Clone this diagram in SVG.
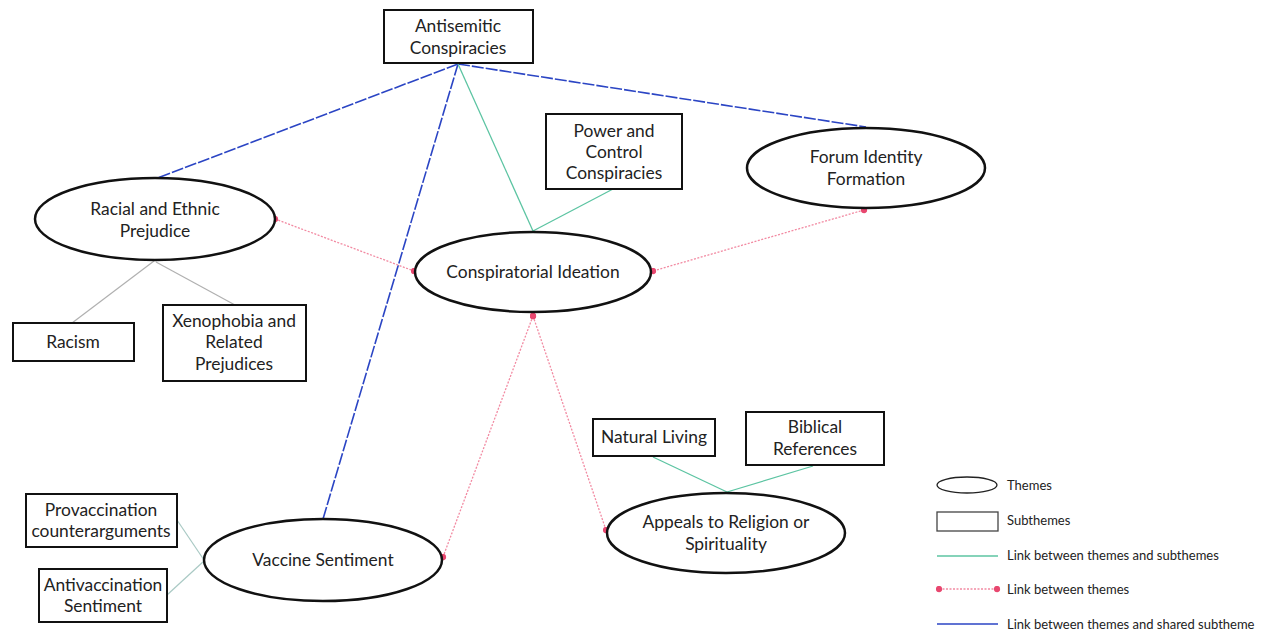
<svg xmlns="http://www.w3.org/2000/svg" width="1266" height="633" viewBox="0 0 1266 633">
<defs>
<marker id="dot" viewBox="0 0 10 10" refX="5" refY="5" markerWidth="7" markerHeight="7" markerUnits="userSpaceOnUse">
<circle cx="5" cy="5" r="4.5" fill="#e8476f"/>
</marker>
<style>
.theme{fill:#fff;stroke:#111;stroke-width:2.5}
.sub{fill:#fff;stroke:#111;stroke-width:2}
.t{font-family:Lato,"Open Sans",sans-serif;font-size:17.4px;fill:#222;text-anchor:middle}
.lg{font-family:Lato,"Open Sans",sans-serif;font-size:13px;fill:#222}
.green{stroke:#5cc4a2;stroke-width:1.3;fill:none}
.grey{stroke:#b0b0b0;stroke-width:1.2;fill:none}
.teal{stroke:#a9c9c4;stroke-width:1.2;fill:none}
.blue{stroke:#2b45c4;stroke-width:1.6;stroke-dasharray:12 2;fill:none}
.pink{stroke:#f28aa2;stroke-width:1.3;stroke-dasharray:2 1.5;fill:none;marker-start:url(#dot);marker-end:url(#dot)}
</style>
</defs>
<rect width="1266" height="633" fill="#fff"/>
<g id="connectors">
<line class="blue" x1="458" y1="64" x2="155" y2="179"/>
<line class="blue" x1="458" y1="64" x2="323" y2="519"/>
<line class="blue" x1="458" y1="64" x2="866" y2="127"/>
<line class="green" x1="458" y1="64" x2="533" y2="231"/>
<line class="green" x1="613" y1="189" x2="533" y2="231"/>
<line class="grey" x1="154" y1="261" x2="72" y2="323"/>
<line class="grey" x1="156" y1="262" x2="235" y2="305"/>
<line class="teal" x1="177" y1="520" x2="204" y2="560"/>
<line class="teal" x1="167" y1="595" x2="204" y2="561"/>
<line class="green" x1="653" y1="457" x2="727" y2="492"/>
<line class="green" x1="813" y1="466" x2="727" y2="492"/>
<line class="pink" x1="275" y1="219" x2="414" y2="271"/>
<line class="pink" x1="864" y1="210" x2="653" y2="271"/>
<line class="pink" x1="533" y1="316" x2="443" y2="557"/>
<line class="pink" x1="533" y1="316" x2="606" y2="530"/>
</g>
<g id="antisemitic">
<rect class="sub" x="384" y="10" width="149" height="53"/>
<text class="t" x="458" y="32">Antisemitic</text>
<text class="t" x="458" y="54">Conspiracies</text>
</g>
<g id="power">
<rect class="sub" x="546" y="114" width="136" height="75"/>
<text class="t" x="614" y="137">Power and</text>
<text class="t" x="614" y="158">Control</text>
<text class="t" x="614" y="179">Conspiracies</text>
</g>
<g id="forum">
<ellipse class="theme" cx="866" cy="168" rx="119" ry="40"/>
<text class="t" x="866" y="163">Forum Identity</text>
<text class="t" x="866" y="185">Formation</text>
</g>
<g id="racial">
<ellipse class="theme" cx="155" cy="219" rx="120" ry="41"/>
<text class="t" x="155" y="215">Racial and Ethnic</text>
<text class="t" x="155" y="237">Prejudice</text>
</g>
<g id="conspiratorial">
<ellipse class="theme" cx="533" cy="272" rx="118" ry="40"/>
<text class="t" x="533" y="278">Conspiratorial Ideation</text>
</g>
<g id="racism">
<rect class="sub" x="13" y="323" width="121" height="38"/>
<text class="t" x="73" y="348">Racism</text>
</g>
<g id="xenophobia">
<rect class="sub" x="163" y="305" width="143" height="76"/>
<text class="t" x="234" y="327">Xenophobia and</text>
<text class="t" x="234" y="348">Related</text>
<text class="t" x="234" y="370">Prejudices</text>
</g>
<g id="natural">
<rect class="sub" x="593" y="419" width="122" height="37"/>
<text class="t" x="654" y="443">Natural Living</text>
</g>
<g id="biblical">
<rect class="sub" x="746" y="412" width="138" height="53"/>
<text class="t" x="815" y="433">Biblical</text>
<text class="t" x="815" y="455">References</text>
</g>
<g id="appeals">
<ellipse class="theme" cx="726" cy="533" rx="119" ry="40"/>
<text class="t" x="726" y="528">Appeals to Religion or</text>
<text class="t" x="726" y="550">Spirituality</text>
</g>
<g id="provaccination">
<rect class="sub" x="26" y="494" width="151" height="53"/>
<text class="t" x="101" y="516">Provaccination</text>
<text class="t" x="101" y="537">counterarguments</text>
</g>
<g id="antivaccination">
<rect class="sub" x="39" y="569" width="128" height="53"/>
<text class="t" x="103" y="591">Antivaccination</text>
<text class="t" x="103" y="612">Sentiment</text>
</g>
<g id="vaccine">
<ellipse class="theme" cx="323" cy="560" rx="119" ry="41"/>
<text class="t" x="323" y="566">Vaccine Sentiment</text>
</g>
<g id="legend">
<ellipse cx="967" cy="485" rx="30" ry="8" fill="#fff" stroke="#222" stroke-width="1.3"/>
<text class="lg" x="1007" y="490">Themes</text>
<rect x="937" y="512" width="61" height="19" fill="#fff" stroke="#444" stroke-width="1.3"/>
<text class="lg" x="1007" y="525">Subthemes</text>
<line class="green" x1="937" y1="556" x2="998" y2="556"/>
<text class="lg" x="1007" y="560">Link between themes and subthemes</text>
<line class="pink" x1="939" y1="589" x2="997" y2="589"/>
<text class="lg" x="1007" y="594">Link between themes</text>
<line stroke="#2b45c4" stroke-width="1.6" x1="937" y1="624" x2="998" y2="624"/>
<text class="lg" x="1007" y="629">Link between themes and shared subtheme</text>
</g>
</svg>
